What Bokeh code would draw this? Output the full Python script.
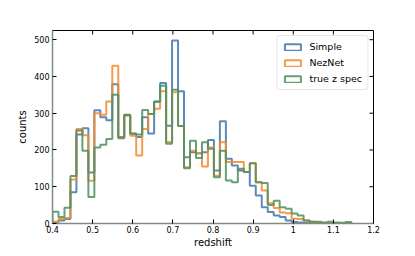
import numpy as np
from bokeh.plotting import figure
from bokeh.models import ColumnDataSource, Range1d, Legend, LegendItem, FixedTicker
from bokeh.embed import file_html
from bokeh.resources import INLINE

# histogram binning
bin_start = 0.4
bin_end = 1.145
n_bins = 50

simple = [3, 8, 12, 85, 242, 259, 139, 308, 289, 281,
          379, 235, 295, 244, 235, 289, 245, 332, 382, 266,
          498, 360, 180, 194, 191, 194, 227, 144, 278, 176,
          158, 144, 140, 103, 76, 44, 31, 22, 18, 8,
          4, 3, 2, 1, 1, 0, 0, 0, 0, 0]
neznet = [5, 12, 15, 120, 257, 240, 116, 300, 296, 332,
          429, 234, 293, 239, 185, 257, 298, 312, 360, 222,
          357, 265, 153, 198, 191, 155, 207, 130, 221, 167,
          167, 167, 140, 164, 112, 90, 55, 42, 30, 28,
          13, 12, 8, 5, 3, 2, 1, 1, 0, 0]
truez = [32, 18, 43, 129, 253, 198, 72, 207, 214, 230,
         350, 232, 296, 245, 242, 309, 298, 331, 375, 217,
         364, 265, 150, 225, 178, 221, 203, 126, 198, 117,
         112, 149, 140, 164, 112, 110, 50, 62, 44, 40,
         27, 22, 8, 5, 5, 3, 5, 3, 2, 4]

series_labels = ["Simple", "NezNet", "true z spec"]
series_colors = ["#3f76ab", "#f58a2a", "#4e8f5e"]

x_ticks = [0.4, 0.5, 0.6, 0.7, 0.8, 0.9, 1.0, 1.1, 1.2]
y_ticks = [0, 100, 200, 300, 400, 500]

X0, X1, Y0, Y1 = 0.4, 1.2, 0, 525
FW, FH = 321, 193

edges = np.linspace(bin_start, bin_end, n_bins + 1)

p = figure(frame_width=FW, frame_height=FH,
           x_range=Range1d(X0, X1), y_range=Range1d(Y0, Y1),
           output_backend="svg", toolbar_location=None,
           min_border_left=52, min_border_top=30, min_border_right=34, min_border_bottom=20)
p.background_fill_color = "white"
p.border_fill_color = "white"
p.xgrid.visible = False
p.ygrid.visible = False
p.outline_line_color = "black"
p.outline_line_width = 1

items = []
for vals, lab, col in zip([simple, neznet, truez], series_labels, series_colors):
    xs = np.concatenate([[edges[0]], edges[:-1], [edges[-1]]])
    ys = np.concatenate([[0], np.array(vals, dtype=float), [0]])
    src = ColumnDataSource(dict(x=xs, y=ys))
    p.step("x", "y", source=src, mode="after", line_color=col, line_width=2, line_alpha=0.85)
    nan = np.array([np.nan])
    dummy = p.quad(left=nan, right=nan, top=nan, bottom=nan, fill_alpha=0,
                   line_color=col, line_width=2, line_alpha=0.85)
    items.append(LegendItem(label=lab, renderers=[dummy]))

# inward ticks on the top and right frame edges
tick_len_y = 4 * (Y1 - Y0) / FH
tick_len_x = 4 * (X1 - X0) / FW
p.segment(x0=x_ticks, x1=x_ticks, y0=[Y1] * len(x_ticks), y1=[Y1 - tick_len_y] * len(x_ticks),
          line_color="black", line_width=1)
p.segment(x0=[X1] * len(y_ticks), x1=[X1 - tick_len_x] * len(y_ticks), y0=y_ticks, y1=y_ticks,
          line_color="black", line_width=1)

font = "DejaVu Sans"
for ax in [p.xaxis[0], p.yaxis[0]]:
    ax.major_tick_in = 4
    ax.major_tick_out = 0
    ax.minor_tick_in = 0
    ax.minor_tick_out = 0
    ax.major_label_text_font = font
    ax.major_label_text_font_size = "8px"
    ax.major_label_text_color = "black"
    ax.axis_label_text_font = font
    ax.axis_label_text_font_size = "10px"
    ax.axis_label_text_font_style = "normal"
    ax.axis_label_text_color = "black"
    ax.axis_line_color = "#7f8c84"
    ax.axis_line_width = 1.5

p.xaxis[0].ticker = FixedTicker(ticks=x_ticks)
p.yaxis[0].ticker = FixedTicker(ticks=y_ticks)
p.xaxis[0].axis_label = "redshift"
p.yaxis[0].axis_label = "counts"
p.xaxis[0].major_label_standoff = 2
p.xaxis[0].axis_label_standoff = 1
p.yaxis[0].major_label_standoff = 3
p.yaxis[0].axis_label_standoff = 3

legend = Legend(items=items, location="top_right")
legend.label_text_font = font
legend.label_text_font_size = "9.5px"
legend.label_text_color = "black"
legend.glyph_width = 20
legend.glyph_height = 8
legend.spacing = 5
legend.padding = 5
legend.margin = 5
legend.label_standoff = 7
legend.border_line_color = "#d0d0d0"
legend.border_line_width = 1
legend.border_radius = 3
legend.background_fill_alpha = 0.8
p.add_layout(legend)

open("out.html", "w").write(file_html(p, INLINE))
